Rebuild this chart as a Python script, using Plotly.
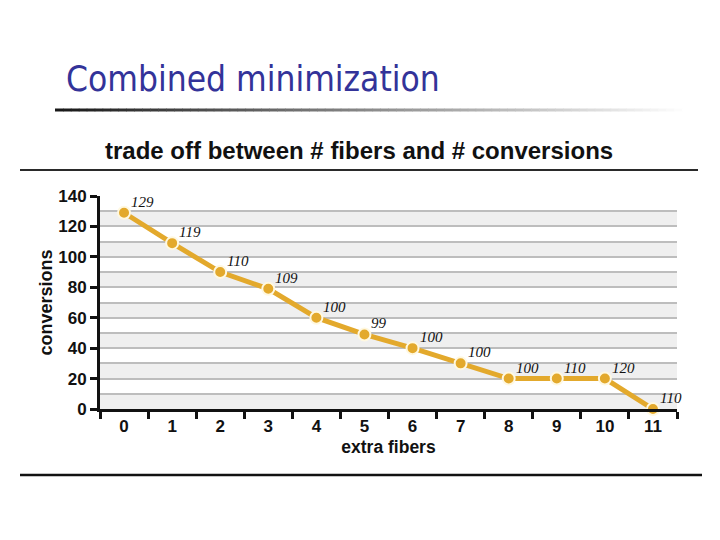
import plotly.graph_objects as go

# ---- data ----
extra_fibers = ["0", "1", "2", "3", "4", "5", "6", "7", "8", "9", "10", "11"]
conversions = [129, 109, 90, 79, 60, 49, 40, 30, 20, 20, 20, 0]
point_labels = ["129", "119", "110", "109", "100", "99", "100", "100", "100", "110", "120", "110"]
y_ticks = [0, 20, 40, 60, 80, 100, 120, 140]

W, H = 720, 540
OFF = 8  # page body margin in the browser
# target plot area in screenshot pixels
PL, PR, PT, PB = 100, 677, 196, 409
ML, MT = PL - OFF, PT - OFF
MR, MB = W - (PR - OFF), H - (PB - OFF)
PW, PH = PR - PL, PB - PT


def px(xp):
    return (xp - PL) / PW


def py(yp):
    return (PB - yp) / PH


line_color = "#E3A92C"

fig = go.Figure()
fig.add_trace(go.Scatter(
    x=extra_fibers, y=conversions,
    mode="lines+markers",
    line=dict(color=line_color, width=5),
    marker=dict(size=12, color=line_color, line=dict(color="#FFF8E0", width=2)),
    cliponaxis=False,
    hoverinfo="skip",
))

annotations = []
for xv, yv, lab in zip(extra_fibers, conversions, point_labels):
    annotations.append(dict(x=xv, y=yv, xref="x", yref="y", text=lab, showarrow=False,
                            xanchor="left", yanchor="middle", xshift=5, yshift=11,
                            font=dict(family="Liberation Serif", size=15, color="#111111", style="italic")))
annotations.append(dict(text="<b>trade off between # fibers and # conversions</b>", xref="paper", yref="paper",
                        x=px(359), y=py(150), xanchor="center", yanchor="middle", showarrow=False,
                        font=dict(family="Liberation Sans", size=24, color="#111111")))

shapes = []
# alternating bands every 10 units
for b in range(0, 140, 20):
    shapes.append(dict(type="rect", xref="paper", yref="y", x0=0, x1=1, y0=b, y1=b + 10,
                       fillcolor="#EFEFEF", line=dict(width=0), layer="below"))
# slide separators
shapes.append(dict(type="line", xref="paper", yref="paper", x0=px(20), x1=px(698), y0=py(170), y1=py(170),
                   line=dict(color="#2a2a2a", width=2.2)))
shapes.append(dict(type="line", xref="paper", yref="paper", x0=px(20), x1=px(702), y0=py(475), y1=py(475),
                   line=dict(color="#111111", width=2.5)))
# gradient underline beneath slide title
n = 80
x_start, x_end = 55, 690
for i in range(n):
    t = i / (n - 1)
    g = int(25 + t * (255 - 25))
    xa = x_start + (x_end - x_start) * i / n
    xb = x_start + (x_end - x_start) * (i + 1) / n
    shapes.append(dict(type="line", xref="paper", yref="paper", x0=px(xa), x1=px(xb) + 0.001,
                       y0=py(110), y1=py(110), line=dict(color=f"rgb({g},{g},{g})", width=3)))

fig.update_layout(
    width=W, height=H,
    margin=dict(l=ML, r=MR, t=MT, b=MB),
    paper_bgcolor="white", plot_bgcolor="white",
    showlegend=False,
    shapes=shapes,
    annotations=annotations,
    title=dict(text="Combined minimization", x=(66 - OFF) / W, xanchor="left", xref="container",
               y=1 - (79 - OFF) / H, yanchor="middle", yref="container",
               font=dict(family="DejaVu Sans Condensed", size=35, color="#333399")),
    font=dict(family="Liberation Sans", color="#111111"),
)

fig.update_xaxes(
    type="category", range=[-0.5, 11.5],
    showline=True, linecolor="#111111", linewidth=3,
    ticks="outside", tickson="boundaries", ticklen=7, tickwidth=3, tickcolor="#111111",
    tickfont=dict(size=17, family="Liberation Sans", weight="bold"),
    showgrid=False, zeroline=False,
    title=dict(text="<b>extra fibers</b>", font=dict(size=17.5), standoff=6),
)
fig.update_yaxes(
    range=[0, 140], tickvals=y_ticks,
    showline=True, linecolor="#111111", linewidth=3,
    ticks="outside", ticklen=7, tickwidth=3, tickcolor="#111111",
    tickfont=dict(size=17, family="Liberation Sans", weight="bold"),
    showgrid=True, gridcolor="#BDBDBD", gridwidth=1.5,
    minor=dict(dtick=10, tick0=0, showgrid=True, gridcolor="#BDBDBD", gridwidth=1.5),
    zeroline=False,
    title=dict(text="<b>conversions</b>", font=dict(size=18), standoff=1),
)

fig.write_html("out.html")
